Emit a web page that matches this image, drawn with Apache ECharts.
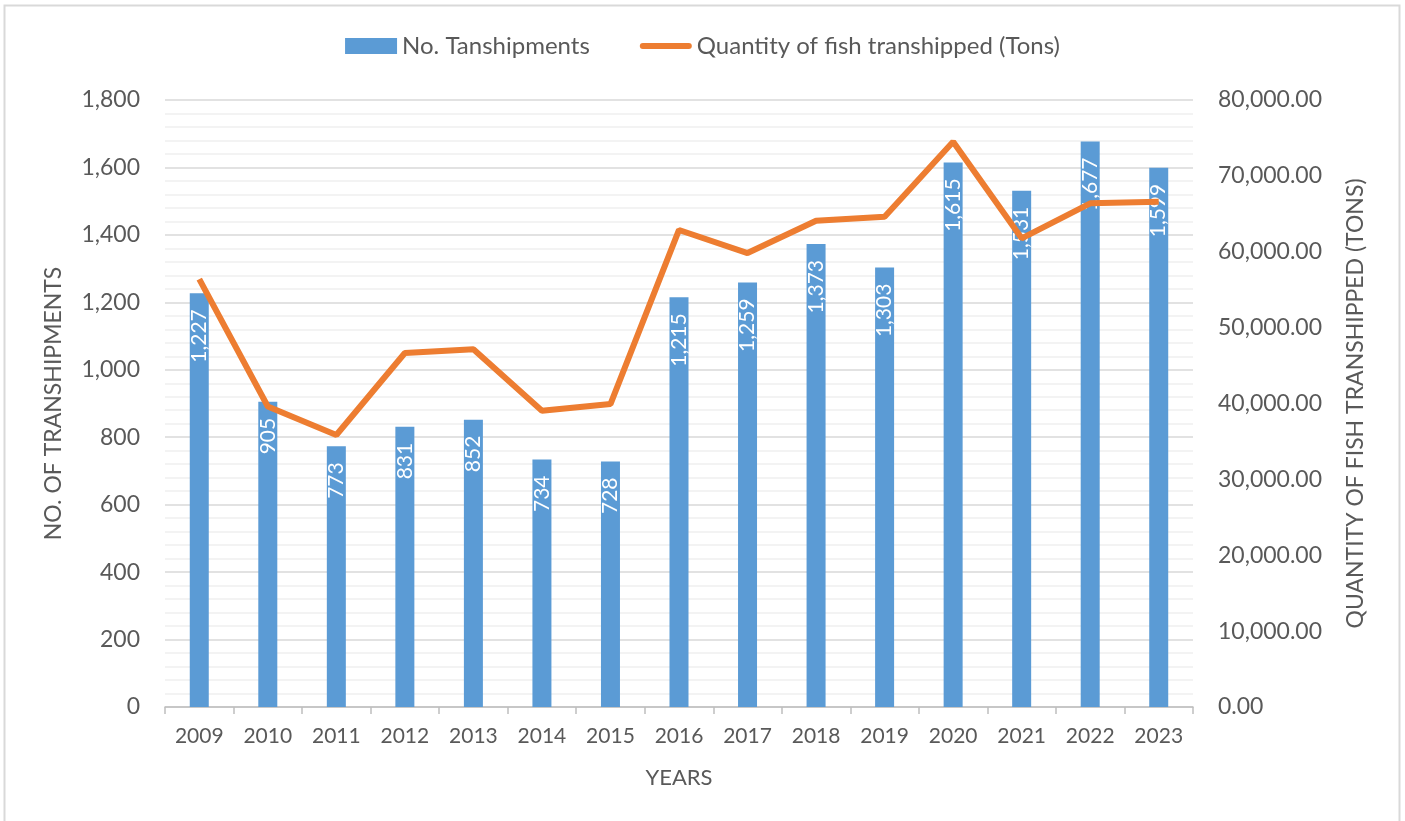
<!DOCTYPE html>
<html lang="en">
<head>
    <meta charset="UTF-8">
    <script src="https://cdn.jsdelivr.net/npm/echarts@6/dist/echarts.min.js"></script>
    <title>Transhipments</title>
    <style>
        body { margin: 0; background: #fff; }
    </style>
</head>
<body>
<div id="main" style="width: 1405px;height:821px;"></div>

<script>
    var years = ['2009', '2010', '2011', '2012', '2013', '2014', '2015', '2016', '2017', '2018', '2019', '2020', '2021', '2022', '2023'];
    var transhipments = [1227, 905, 773, 831, 852, 734, 728, 1215, 1259, 1373, 1303, 1615, 1531, 1677, 1599];
    var fishTons = [56400, 39600, 35850, 46650, 47150, 39050, 39930, 62870, 59830, 64090, 64620, 74500, 61770, 66380, 66600];

    var textColor = '#595959';
    var font = 'Lato, "Open Sans", sans-serif';

    var chartDom = document.getElementById('main');
    var myChart = echarts.init(chartDom);
    var option = {
        animation: false,
        textStyle: { fontFamily: font },
        graphic: [{
            type: 'rect',
            shape: { x: 4.5, y: 5.5, width: 1395, height: 830 },
            style: { fill: 'none', stroke: '#d9d9d9', lineWidth: 2 },
            silent: true
        }],
        legend: {
            top: 29,
            left: 'center',
            itemGap: 50,
            itemWidth: 52,
            itemHeight: 16,
            textStyle: { fontSize: 24, color: textColor, fontFamily: font },
            data: [
                { name: 'No. Tanshipments', icon: 'rect' },
                { name: 'Quantity of fish transhipped (Tons)', icon: 'path://M3,0 L49,0 A3,3 0 0 1 49,6 L3,6 A3,3 0 0 1 3,0 Z' }
            ]
        },
        grid: {
            left: 165,
            right: 212,
            top: 100,
            bottom: 114,
            containLabel: false
        },
        xAxis: {
            type: 'category',
            data: years,
            name: 'YEARS',
            nameLocation: 'middle',
            nameGap: 60,
            nameTextStyle: { fontSize: 22, color: textColor },
            axisLine: { lineStyle: { color: '#bfbfbf', width: 1.5 } },
            axisTick: { show: true, length: 7, lineStyle: { color: '#bfbfbf', width: 1.5 } },
            axisLabel: { fontSize: 21, color: textColor, margin: 19 }
        },
        yAxis: [
            {
                type: 'value',
                min: 0,
                max: 1800,
                interval: 200,
                name: 'NO. OF TRANSHIPMENTS',
                nameLocation: 'middle',
                nameGap: 100,
                nameTextStyle: { fontSize: 23, color: textColor },
                axisLine: { show: false },
                axisTick: { show: false },
                axisLabel: {
                    fontSize: 23, color: textColor, margin: 25,
                    formatter: function (v) { return v.toLocaleString('en-US'); }
                },
                splitLine: { lineStyle: { color: '#d9d9d9', width: 1.5 } },
                minorTick: { show: false, splitNumber: 5 },
                minorSplitLine: { show: true, lineStyle: { color: '#f0f0f0', width: 1.5 } }
            },
            {
                type: 'value',
                min: 0,
                max: 80000,
                interval: 10000,
                name: 'QUANTITY OF FISH TRANSHIPPED (TONS)',
                nameLocation: 'middle',
                nameGap: 151,
                nameRotate: 90,
                nameTextStyle: { fontSize: 23, color: textColor },
                axisLine: { show: false },
                axisTick: { show: false },
                splitLine: { show: false },
                axisLabel: {
                    fontSize: 23, color: textColor, margin: 25,
                    formatter: function (v) {
                        return v.toLocaleString('en-US', { minimumFractionDigits: 2, maximumFractionDigits: 2 });
                    }
                }
            }
        ],
        series: [
            {
                name: 'No. Tanshipments',
                type: 'bar',
                yAxisIndex: 0,
                barWidth: 19,
                itemStyle: { color: '#5b9bd5' },
                label: {
                    show: true,
                    position: 'insideTop',
                    distance: 16,
                    rotate: 90,
                    align: 'right',
                    verticalAlign: 'middle',
                    color: '#ffffff',
                    fontSize: 21,
                    formatter: function (p) { return p.value.toLocaleString('en-US'); }
                },
                data: transhipments
            },
            {
                name: 'Quantity of fish transhipped (Tons)',
                type: 'line',
                yAxisIndex: 1,
                symbol: 'none',
                lineStyle: { color: '#ed7d31', width: 6 },
                itemStyle: { color: '#ed7d31' },
                z: 3,
                data: fishTons
            }
        ]
    };
    myChart.setOption(option);
</script>
</body>
</html>
